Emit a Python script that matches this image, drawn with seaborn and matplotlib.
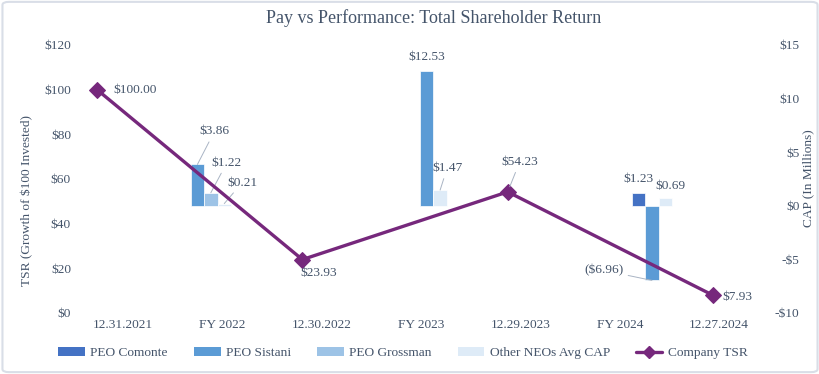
import numpy as np
import pandas as pd
import matplotlib
matplotlib.use("Agg")
import matplotlib.pyplot as plt
import seaborn as sns
from matplotlib.patches import FancyBboxPatch, Patch
from matplotlib.lines import Line2D

# ---- data ----
periods = ["12.31.2021", "FY 2022", "12.30.2022", "FY 2023", "12.29.2023", "FY 2024", "12.27.2024"]

tsr_dates = ["12.31.2021", "12.30.2022", "12.29.2023", "12.27.2024"]
tsr_values = [100.00, 23.93, 54.23, 7.93]

cap_years = ["FY 2022", "FY 2023", "FY 2024"]
peo_comonte = [np.nan, np.nan, 1.23]
peo_sistani = [3.86, 12.53, -6.96]
peo_grossman = [1.22, np.nan, np.nan]
other_neos = [0.21, 1.47, 0.69]

series_names = ["PEO Comonte", "PEO Sistani", "PEO Grossman", "Other NEOs Avg CAP"]
series_values = [peo_comonte, peo_sistani, peo_grossman, other_neos]

# ---- style ----
sns.set_theme(style="white")
plt.rcParams["font.family"] = ["Liberation Serif", "DejaVu Serif"]
txt = "#44546A"
purple = "#76287C"
colors = ["#4472C4", "#5B9BD5", "#9DC3E6", "#DEEBF7"]
leader = "#A9B4C4"
fs = 9.6

fig = plt.figure(figsize=(8.2, 3.74), dpi=100)
rect = [73 / 820, 1 - 313 / 374, (769 - 73) / 820, (313 - 45) / 374]

# bars (CAP, right axis)
ax_bar = fig.add_axes(rect)
ax_bar.set_xlim(-0.5, 6.5)
ax_bar.set_ylim(-10, 15)

bar_w = 0.135
group_start = {"FY 2022": -0.316, "FY 2023": -0.01, "FY 2024": 0.12}

# label offsets in pixels (dx, dy downwards), leader line flag
bar_label_pos = {
    ("FY 2022", 1): (17, -33, True),
    ("FY 2022", 2): (16, -30, True),
    ("FY 2022", 3): (18, -21, True),
    ("FY 2023", 1): (0, -14, False),
    ("FY 2023", 3): (7, -22, True),
    ("FY 2024", 0): (0, -14, False),
    ("FY 2024", 1): (-48, -10, True),
    ("FY 2024", 3): (5, -12, False),
}

def money(v):
    return f"(${abs(v):.2f})" if v < 0 else f"${v:.2f}"

def px(dx, dy):
    return (dx * 0.72, -dy * 0.72)

for gi, year in enumerate(cap_years):
    k = periods.index(year)
    slot = 0
    for si, vals in enumerate(series_values):
        v = vals[gi]
        if np.isnan(v):
            continue
        left = k + group_start[year] + slot * bar_w
        ax_bar.bar(left, v, width=bar_w, align="edge", color=colors[si],
                   edgecolor="white", linewidth=0.5, zorder=2)
        dx, dy, lead = bar_label_pos[(year, si)]
        ap = dict(arrowstyle="-", color=leader, lw=0.7, shrinkA=1, shrinkB=0) if lead else None
        ax_bar.annotate(money(v), xy=(left + bar_w / 2, v), xytext=px(dx, dy),
                        textcoords="offset points", ha="center", va="center",
                        fontsize=fs, color=txt, arrowprops=ap)
        slot += 1

ax_bar.set_xticks(range(len(periods)))
ax_bar.set_xticklabels(periods, fontsize=fs, color=txt)
ax_bar.yaxis.tick_right()
ax_bar.set_yticks([-10, -5, 0, 5, 10, 15])
ax_bar.set_yticklabels(["-$10", "-$5", "$0", "$5", "$10", "$15"], fontsize=fs, color=txt)
for lbl in ax_bar.get_yticklabels():
    lbl.set_ha("right")
ax_bar.tick_params(axis="y", length=0, pad=22)
ax_bar.tick_params(axis="x", length=0, pad=4)
for s in ax_bar.spines.values():
    s.set_visible(False)

# line (TSR, left axis)
ax_line = fig.add_axes(rect)
ax_line.patch.set_alpha(0)
ax_line.set_xlim(-0.234, 6.545)
ax_line.set_ylim(0, 120)
tsr_x = [periods.index(d) for d in tsr_dates]
sns.lineplot(x=tsr_x, y=tsr_values, ax=ax_line, color=purple, linewidth=2.4,
             marker="D", markersize=8, markeredgecolor=purple, sort=False)

tsr_label_pos = [(38, 0, False), (16, 13, False), (12, -30, True), (24, 2, False)]
for x, v, (dx, dy, lead) in zip(tsr_x, tsr_values, tsr_label_pos):
    ap = dict(arrowstyle="-", color=leader, lw=0.7, shrinkA=1, shrinkB=4) if lead else None
    ax_line.annotate(money(v), xy=(x, v), xytext=px(dx, dy), textcoords="offset points",
                     ha="center", va="center", fontsize=fs, color=txt, arrowprops=ap)

ax_line.set_xticks([])
ax_line.set_yticks(range(0, 121, 20))
ax_line.set_yticklabels([f"${t}" for t in range(0, 121, 20)], fontsize=fs, color=txt)
ax_line.tick_params(axis="y", length=0, pad=1.5)
for s in ax_line.spines.values():
    s.set_visible(False)

# titles and axis labels
fig.text(434 / 820, 1 - 18 / 374, "Pay vs Performance: Total Shareholder Return",
         ha="center", va="center", fontsize=13, color=txt)
fig.text(27 / 820, 1 - 201 / 374, "TSR (Growth of $100 Invested)", rotation=90,
         ha="center", va="center", fontsize=fs, color=txt)
fig.text(808 / 820, 1 - 178 / 374, "CAP (In Millions)", rotation=90,
         ha="center", va="center", fontsize=fs, color=txt)

# legend
handles = [Patch(facecolor=c, edgecolor="none") for c in colors]
handles.append(Line2D([0], [0], color=purple, lw=2.4, marker="D", markersize=6))
leg = fig.legend(handles, series_names + ["Company TSR"], loc="center",
                 bbox_to_anchor=(403 / 820, 1 - 353 / 374), ncol=5, frameon=False,
                 fontsize=fs, handlelength=2.0, handleheight=0.6, handletextpad=0.4,
                 columnspacing=1.95, labelcolor=txt)

# outer border
fig.patches.append(FancyBboxPatch((0.003, 0.005), 0.994, 0.99,
                                  boxstyle="round,pad=0,rounding_size=0.008",
                                  transform=fig.transFigure, fill=False,
                                  edgecolor="#D9DEE7", linewidth=1.5))

fig.savefig("out.png", dpi=100)
